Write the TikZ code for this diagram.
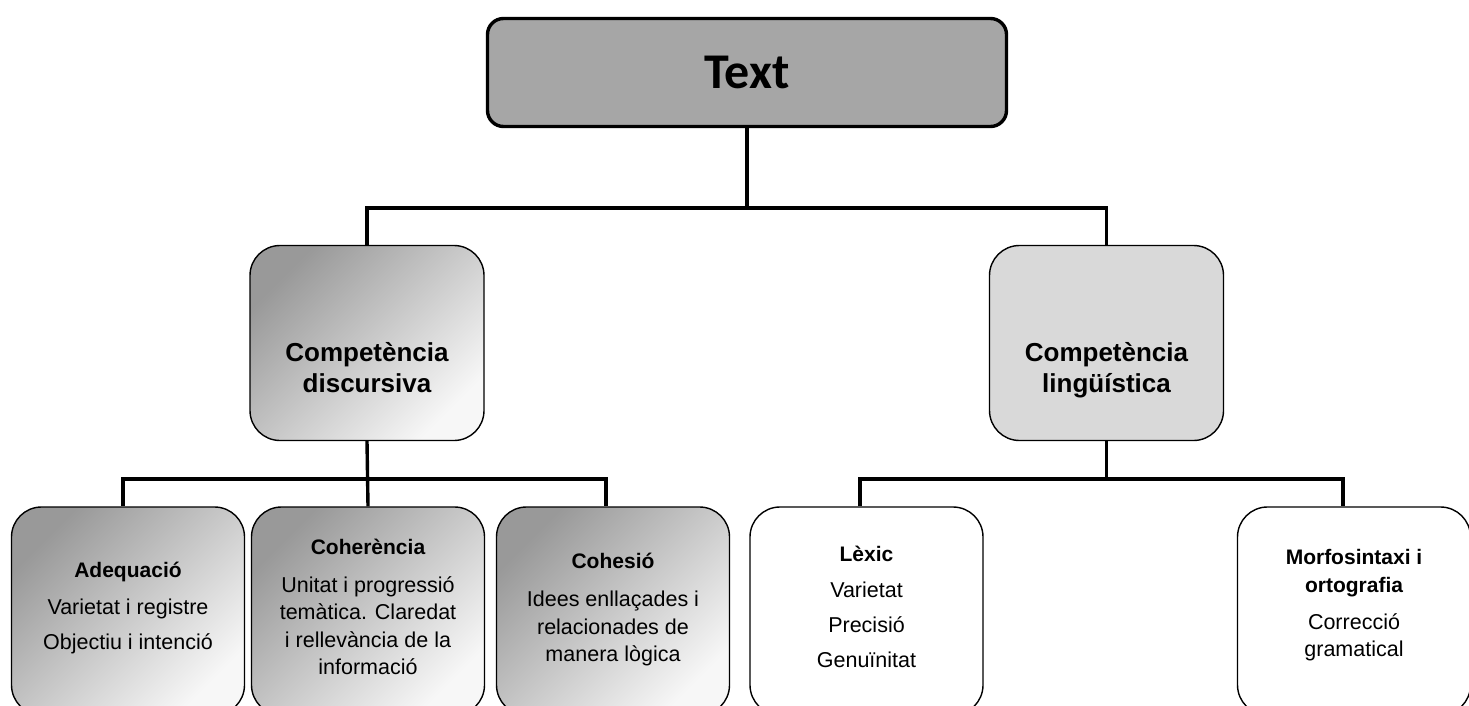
\documentclass[tikz,border=0pt]{standalone}
\usepackage{fontspec}
\setmainfont{Liberation Sans}
\newfontfamily\calib{Carlito}
\newcommand\myttl[1]{{\bfseries\fontsize{21}{27}\selectfont #1}}
\begin{document}
\begin{tikzpicture}[x=1pt,y=-1pt,
  conn/.style={line width=3.4pt, line join=miter},
  topbox/.style={draw, line width=3.4pt, rounded corners=16pt, fill=black!35,
    minimum width=519pt, minimum height=108pt, inner sep=0pt,
    font=\calib\bfseries\fontsize{50}{60}\selectfont},
  midbox/.style={draw, line width=1.4pt, rounded corners=30pt,
    minimum width=234pt, minimum height=195pt, inner sep=0pt},
  lowbox/.style={draw, line width=1.4pt, rounded corners=30pt,
    minimum width=233pt, minimum height=208pt, inner sep=0pt},
  grad/.style={top color=black!40, bottom color=black!3, shading angle=45},
  midtxt/.style={align=center, inner sep=0pt, font=\bfseries\fontsize{26}{31}\selectfont},
  lowtxt/.style={align=center, inner sep=0pt, font=\fontsize{21.5}{27.5}\selectfont}
]
\useasboundingbox (0,0) rectangle (1469,706);
\clip (0,0) rectangle (1469,706);

% top
\node[topbox] (top) at (747,72.5) {Text};

% middle
\node[midbox, grad] (disc) at (367,343) {};
\node[midbox, fill=black!15] (ling) at (1106.5,343) {};
\node[midtxt] (discT) at ([yshift=-24.5pt]disc.center) {Competència\\discursiva};
\node[midtxt] (lingT) at ([yshift=-27.5pt]ling.center) {Competència\\lingüística};

% bottom
\node[lowbox, grad] (adeq) at (128,611) {};
\node[lowbox, grad] (coh) at (368,611) {};
\node[lowbox, grad] (cohs) at (613,611) {};
\node[lowbox, fill=white] (lex) at (866.5,611) {};
\node[lowbox, fill=white] (morf) at (1354,611) {};

\node[lowtxt] (adeqT) at ([yshift=3pt]adeq.center)
  {\myttl{Adequació}\\[9pt]Varietat i registre\\[7.5pt]Objectiu i intenció};
\node[lowtxt] (cohT) at ([yshift=4pt]coh.center)
  {\myttl{Coherència}\\[10pt]Unitat i progressió\\temàtica. Claredat\\i rellevància de la\\informació};
\node[lowtxt] (cohsT) at ([yshift=1.5pt]cohs.center)
  {\myttl{Cohesió}\\[11pt]Idees enllaçades i\\relacionades de\\manera lògica};
\node[lowtxt] (lexT) at ([yshift=4.5pt]lex.center)
  {\myttl{Lèxic}\\[8.5pt]Varietat\\[7.5pt]Precisió\\[7.5pt]Genuïnitat};
\node[lowtxt] (morfT) at ([yshift=5.5pt]morf.center)
  {\myttl{Morfosintaxi i}\\\myttl{ortografia}\\[9.5pt]Correcció\\gramatical};

% connectors
\coordinate (j1) at (747,208);
\coordinate (j2) at (368,479);
\coordinate (j3) at (1106.5,479);
\draw[conn] (top.south) -- (j1);
\draw[conn] (disc.north) |- (j1) -| (ling.north);
\draw[conn] (disc.south) -- (coh.north);
\draw[conn] ([xshift=-5pt]adeq.north) |- (j2) -| ([xshift=-7pt]cohs.north);
\draw[conn] (ling.south) -- (j3);
\draw[conn] ([xshift=-6.5pt]lex.north) |- (j3) -| ([xshift=-11pt]morf.north);
\end{tikzpicture}
\end{document}
